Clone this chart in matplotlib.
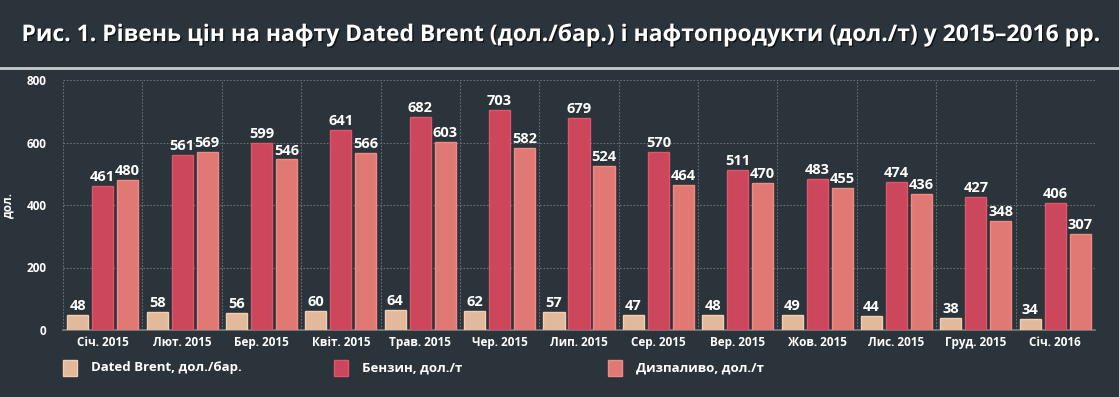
import numpy as np
import matplotlib.pyplot as plt
import matplotlib.patheffects as pe
from matplotlib.patches import Rectangle

months = ["Січ. 2015", "Лют. 2015", "Бер. 2015", "Квіт. 2015", "Трав. 2015", "Чер. 2015",
          "Лип. 2015", "Сер. 2015", "Вер. 2015", "Жов. 2015", "Лис. 2015", "Груд. 2015", "Січ. 2016"]
brent = [48, 58, 56, 60, 64, 62, 57, 47, 48, 49, 44, 38, 34]
benzyn = [461, 561, 599, 641, 682, 703, 679, 570, 511, 483, 474, 427, 406]
dyzpalyvo = [480, 569, 546, 566, 603, 582, 524, 464, 470, 455, 436, 348, 307]

series_names = ["Dated Brent, дол./бар.", "Бензин, дол./т", "Дизпаливо, дол./т"]
colors = ["#e2b99b", "#cc475c", "#e07874"]
edges = ["#f0cfb4", "#e0566a", "#f08a84"]

bg = "#2b343a"
plt.rcParams['font.family'] = ['Open Sans', 'DejaVu Sans']

fig = plt.figure(figsize=(11.19, 3.97), dpi=100, facecolor=bg)
ax = fig.add_axes([63 / 1119, 67 / 397, (1095 - 63) / 1119, 250 / 397])
ax.set_facecolor(bg)

x = np.arange(len(months)) + 0.5
w = 0.265
offs = [-0.315, 0.0, 0.315]
for vals, off, c, ec in zip([brent, benzyn, dyzpalyvo], offs, colors, edges):
    bars = ax.bar(x + off, vals, width=w, color=c, edgecolor=ec, linewidth=1, zorder=3)
    for b, v in zip(bars, vals):
        ax.text(b.get_x() + b.get_width() / 2, v + 6, str(v), ha="center", va="bottom",
                color="white", fontsize=10.5, fontweight="bold", zorder=4)

ax.set_xlim(0, len(months))
ax.set_ylim(0, 800)
ax.set_yticks([0, 200, 400, 600, 800])
ax.set_xticks(x)
ax.set_xticklabels(months)
for lbl in ax.get_xticklabels() + ax.get_yticklabels():
    lbl.set_fontweight("bold")
    lbl.set_color("white")
    lbl.set_fontsize(8.5)
ax.tick_params(length=0, pad=4)
ax.tick_params(axis="y", pad=12)

for yv in [200, 400, 600, 800]:
    ax.axhline(yv, color="#6a7176", linestyle=(0, (1.5, 1.5)), linewidth=0.8, zorder=1)
for xv in range(len(months)):
    ax.axvline(xv, color="#6a7176", linestyle=(0, (1.5, 1.5)), linewidth=0.8, zorder=1)

for s in ["top", "right", "left"]:
    ax.spines[s].set_visible(False)
ax.spines["bottom"].set_color("#7a8084")
ax.spines["bottom"].set_linewidth(1.2)

ax.set_ylabel("дол.", color="white", fontsize=8.5, fontweight="bold")
ax.yaxis.set_label_coords(-0.047, 0.5)

# title
fig.text(0.5, 1 - 35 / 397, "Рис. 1. Рівень цін на нафту Dated Brent (дол./бар.) і нафтопродукти (дол./т) у 2015–2016 рр.",
         ha="center", va="center", color="white", fontsize=16.5, fontweight="bold",
         path_effects=[pe.withSimplePatchShadow(offset=(1, -1), shadow_rgbFace="black", alpha=0.6)])
fig.add_artist(plt.Line2D([0, 1], [1 - 68 / 397] * 2, color="#c8cccf", linewidth=2))

# legend
leg_x = [63, 334, 608]
for lx, name, c, ec in zip(leg_x, series_names, colors, edges):
    fig.add_artist(Rectangle((lx / 1119, 1 - 376 / 397), 14 / 1119, 16 / 397,
                             facecolor=c, edgecolor=ec, linewidth=1, transform=fig.transFigure))
    fig.text((lx + 28) / 1119, 1 - 368 / 397, name, ha="left", va="center",
             color="white", fontsize=9.5, fontweight="bold")

fig.savefig("out.png", dpi=100, facecolor=bg)
